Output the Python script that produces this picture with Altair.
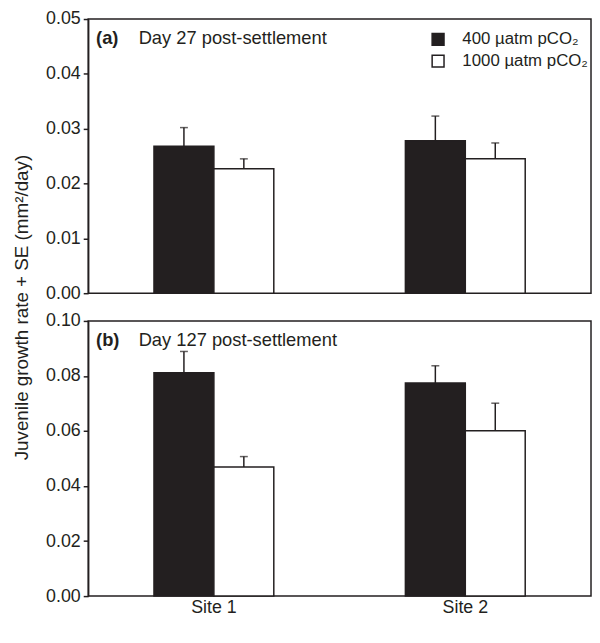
import altair as alt
import pandas as pd

# ---- data ----
sites = ["Site 1", "Site 2"]
treatments = ["400 µatm pCO₂", "1000 µatm pCO₂"]
bar_colors = ["#231f20", "#ffffff"]

day27_mean = [0.0268, 0.0227, 0.0278, 0.0245]
day27_se = [0.0034, 0.0018, 0.0045, 0.0029]
day127_mean = [0.0812, 0.0469, 0.0774, 0.0601]
day127_se = [0.0077, 0.0038, 0.0063, 0.0100]

day27_ticks = [0.0, 0.01, 0.02, 0.03, 0.04, 0.05]
day127_ticks = [0.0, 0.02, 0.04, 0.06, 0.08, 0.10]

panel_tags = ["(a)", "(b)"]
panel_titles = ["Day 27 post-settlement", "Day 127 post-settlement"]
y_title = "Juvenile growth rate + SE (mm²/day)"

FONT = "Liberation Sans"
INK = "#231f20"
W = 508
H_TOP = 277
H_BOT = 278
GAP = 28


def panel(mean, se, ticks, tag, title, height, top):
    df = pd.DataFrame({
        "site": [s for s in sites for _ in treatments],
        "treatment": [t for _ in sites for t in treatments],
        "mean": mean,
        "upper": [m + e for m, e in zip(mean, se)],
    })
    x = alt.X(
        "site:N",
        scale=alt.Scale(domain=sites, paddingInner=0.5234, paddingOuter=0.2617),
        axis=None if top else alt.Axis(title=None, labelAngle=0, ticks=False,
                                       domain=False, labelPadding=3,
                                       labelFontSize=18, labelFont=FONT,
                                       labelColor=INK),
    )
    xo = alt.XOffset("treatment:N",
                     scale=alt.Scale(domain=treatments, paddingInner=0, paddingOuter=0))
    yaxis = alt.Axis(
        values=ticks, format=".2f", grid=False,
        title=y_title if top else None,
        **(dict(titleX=-67, titleY=H_TOP + GAP / 2, titleAngle=270, titleAlign="center",
                titleBaseline="middle", titleFontSize=19, titleFont=FONT,
                titleFontWeight="normal", titleColor=INK) if top else {}),
    )
    y = alt.Y("mean:Q", scale=alt.Scale(domain=[0, ticks[-1]], nice=False, zero=True),
              axis=yaxis)
    color = alt.Color(
        "treatment:N",
        scale=alt.Scale(domain=treatments, range=bar_colors),
        legend=alt.Legend(orient="none", legendX=345, legendY=12, title=None,
                          symbolType="square", symbolSize=144,
                          symbolStrokeColor=INK, symbolStrokeWidth=1.5,
                          symbolOpacity=1, labelFontSize=17, labelFont=FONT,
                          labelColor=INK, labelOffset=16, rowPadding=3)
        if top else None,
    )
    base = alt.Chart(df).encode(x=x, xOffset=xo)
    bars = base.mark_bar(stroke=INK, strokeWidth=1.5, opacity=1).encode(y=y, color=color)
    err = base.mark_rule(color=INK, strokeWidth=1.5).encode(y="mean:Q", y2="upper:Q")
    cap = base.mark_tick(color=INK, size=8, thickness=1.5).encode(y="upper:Q")

    tdf = pd.DataFrame({"tag": [tag], "title": [title]})
    tag_t = alt.Chart(tdf).mark_text(align="left", baseline="middle", font=FONT,
                                     fontSize=18.5, fontWeight="bold", color=INK).encode(
        x=alt.value(8), y=alt.value(19), text="tag:N")
    title_t = alt.Chart(tdf).mark_text(align="left", baseline="middle", font=FONT,
                                       fontSize=18.5, color=INK).encode(
        x=alt.value(51), y=alt.value(19), text="title:N")
    return alt.layer(bars, err, cap, tag_t, title_t).properties(width=W, height=height)


top = panel(day27_mean, day27_se, day27_ticks, panel_tags[0], panel_titles[0], H_TOP, True)
bottom = panel(day127_mean, day127_se, day127_ticks, panel_tags[1], panel_titles[1], H_BOT, False)

chart = alt.vconcat(top, bottom, spacing=GAP, bounds="flush").properties(
    padding={"left": 4, "top": -2, "right": 0, "bottom": -3}
).configure_view(stroke=INK, strokeWidth=1.5).configure_axis(
    domainColor=INK, domainWidth=1.5, tickColor=INK, tickWidth=1.5, tickSize=5,
    labelFont=FONT, labelFontSize=18, labelColor=INK, labelPadding=3,
)

chart.save("out.html", embed_options={"renderer": "svg", "actions": False})
